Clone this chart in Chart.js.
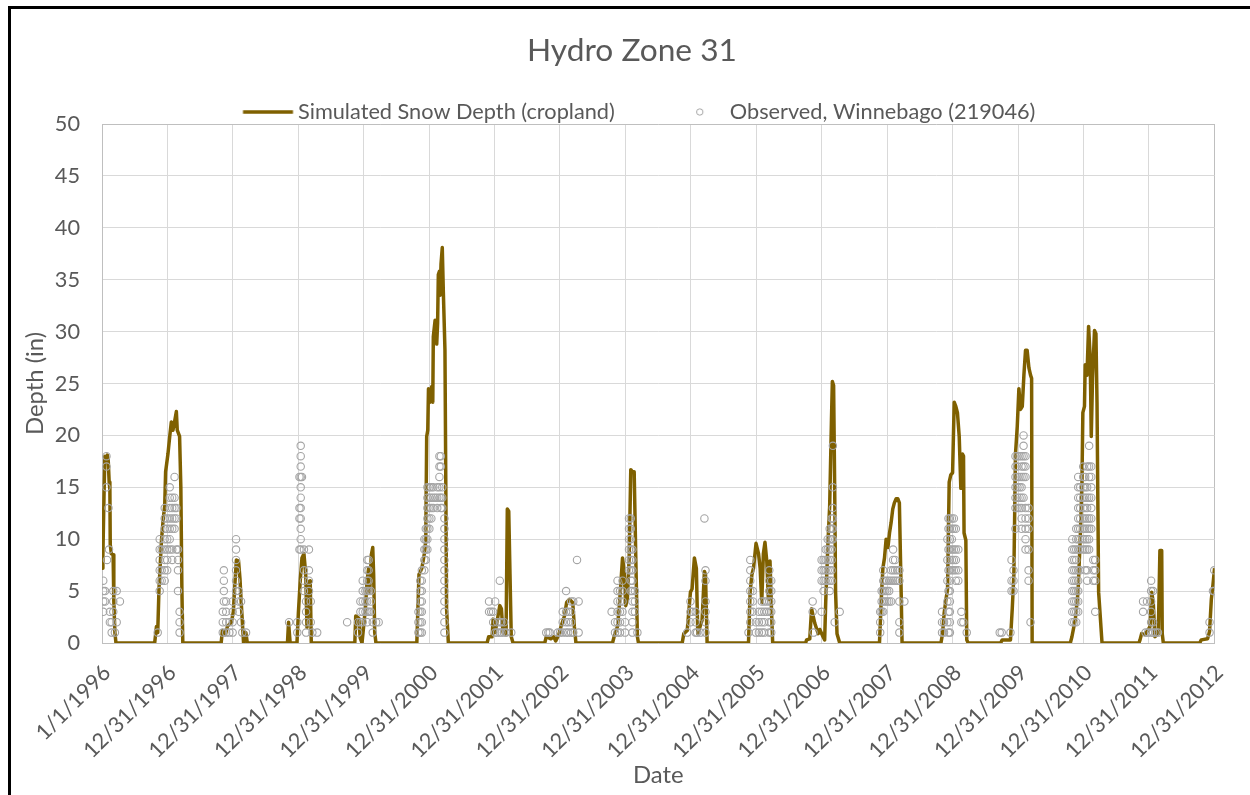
<!DOCTYPE html>
<html>
<head>
<meta charset="utf-8">
<script src="https://cdn.jsdelivr.net/npm/chart.js@4.4.0/dist/chart.umd.min.js"></script>
<style>
html, body { margin: 0; padding: 0; background: #ffffff; width: 1250px; height: 795px; overflow: hidden; }
#wrap { position: absolute; left: 0; top: 0; width: 1250px; height: 795px; }
#frame { position: absolute; left: 8px; top: 6px; width: 1400px; height: 1000px;
         border-left: 3px solid #000; border-top: 3px solid #000; pointer-events: none; }
</style>
</head>
<body>
<div id="wrap"><canvas id="c" width="1250" height="795"></canvas></div>
<div id="frame"></div>
<script>
// ---------------- text ----------------
const chartTitle = 'Hydro Zone 31';
const simLabel = 'Simulated Snow Depth (cropland)';
const obsLabel = 'Observed, Winnebago (219046)';
const yAxisTitle = 'Depth (in)';
const xAxisTitle = 'Date';

// ---------------- axes ----------------
const xTickLabels = ['1/1/1996', '12/31/1996', '12/31/1997', '12/31/1998', '12/31/1999',
  '12/31/2000', '12/31/2001', '12/31/2002', '12/31/2003', '12/31/2004', '12/31/2005',
  '12/31/2006', '12/31/2007', '12/31/2008', '12/31/2009', '12/31/2010', '12/31/2011', '12/31/2012'];
const yMin = 0, yMax = 50, yStep = 5;

// ---------------- simulated snow depth (day index since 1/1/1996, inches) ----------------
const simDay = [
  0, 5, 11, 16, 22, 30, 35, 40, 44, 46, 52, 62, 66, 72, 78,
  294, 304, 311, 318, 332, 342, 350, 355, 368, 378, 387, 396, 405, 415, 420, 433, 440, 446, 451,
  665, 672, 689, 700, 722, 733, 741, 750, 762, 770, 776, 785, 790, 803, 811,
  1035, 1041, 1050, 1088, 1096, 1107, 1116, 1127, 1137, 1144, 1150, 1162, 1168,
  1411, 1416, 1433, 1441, 1451, 1470, 1479, 1488, 1494, 1503, 1511, 1516, 1522, 1529,
  1757, 1769, 1785, 1799, 1807, 1812, 1818, 1822, 1831, 1840, 1846, 1849, 1859, 1868, 1873, 1877, 1883, 1887, 1892, 1899, 1905, 1914, 1923, 1933,
  2149, 2158, 2177, 2183, 2194, 2210, 2220, 2229, 2238, 2255, 2262, 2270, 2277, 2284, 2294,
  2471, 2479, 2505, 2521, 2532, 2549, 2562, 2581, 2593, 2608, 2627, 2636, 2645,
  2849, 2858, 2877, 2886, 2895, 2905, 2914, 2923, 2932, 2942, 2951, 2960, 2970, 2979, 2988, 2994,
  3238, 3247, 3266, 3284, 3293, 3306, 3317, 3325, 3349, 3362, 3368, 3377,
  3608, 3617, 3627, 3636, 3650, 3664, 3673, 3682, 3691, 3700, 3710, 3719, 3728, 3738, 3743,
  3927, 3932, 3950, 3960, 3969, 3978, 3997, 4006, 4024, 4033, 4039, 4052, 4061, 4071, 4076, 4083, 4089, 4094, 4102, 4117,
  4339, 4349, 4358, 4367, 4376, 4386, 4395, 4404, 4413, 4422, 4432, 4441, 4450, 4460, 4465,
  4682, 4691, 4700, 4710, 4719, 4728, 4737, 4747, 4756, 4765, 4774, 4784, 4793, 4802, 4808, 4811, 4821, 4826, 4834,
  5015, 5024, 5070, 5080, 5089, 5098, 5108, 5117, 5126, 5136, 5145, 5154, 5163, 5173, 5182, 5188, 5191,
  5404, 5413, 5432, 5447, 5459, 5469, 5474, 5483, 5487, 5497, 5506, 5515, 5521, 5528, 5539, 5547, 5553, 5562, 5571, 5581,
  5787, 5793, 5802, 5821, 5839, 5849, 5858, 5867, 5876, 5895, 5904, 5914, 5917, 5923,
  6126, 6135, 6170, 6181, 6191, 6200, 6209
];
const simDepth = [
  7.2, 8.5, 14, 18, 17.6, 18.1, 17.5, 15.5, 14.8, 9.5, 8.6, 8.5, 4, 1, 0,
  0, 1.6, 1.0, 5.2, 9.9, 12, 13.2, 16.5, 18.2, 19.9, 21.3, 20.5, 21.3, 22.3, 20.5, 19.9, 15, 5, 0,
  0, 1.2, 0.8, 1.6, 2, 3, 5.5, 8, 7.9, 6.2, 4.2, 1.5, 0, 1, 0,
  0, 2, 0, 0, 2.9, 6.2, 8.2, 8.6, 6.6, 1.5, 5.9, 6, 0,
  0, 2.6, 2.4, 0.5, 0, 3.3, 5.9, 7.2, 4.9, 8.5, 9.2, 6.6, 1, 0,
  0, 6.6, 7.2, 8.6, 9.9, 19.9, 20.5, 24.5, 23.2, 24.7, 23.2, 29.5, 31.1, 28.8, 30.8, 35.5, 35.8, 33.5, 36.5, 38.1, 33.8, 28.2, 3.3, 0,
  0, 0.6, 0.6, 2.3, 1, 2.6, 3.6, 3.3, 1, 0.8, 12.9, 12.7, 6.6, 0.6, 0,
  0, 0.6, 0.4, 0.6, 0.2, 0.8, 1.6, 2.6, 3.9, 4.2, 3.9, 1.6, 0,
  0, 0.6, 1.6, 3.3, 5.6, 8.2, 6.9, 3.6, 4.2, 8.2, 16.7, 16.5, 16.5, 8.2, 0.6, 0,
  0, 0.9, 1.2, 4.9, 5.2, 8.2, 7.2, 0.9, 2.2, 6.9, 6.6, 0,
  0, 4.9, 6.6, 7.2, 9.6, 8.6, 7.2, 3.9, 8.6, 9.7, 7.9, 4.2, 7.9, 2.3, 0,
  0, 0.3, 0.4, 3.3, 2.6, 1.9, 0.9, 1.3, 0.6, 0.3, 4, 9.9, 13.2, 21.5, 25.2, 24.8, 14.9, 4.9, 0.9, 0,
  0, 4.2, 7.2, 8.2, 10, 9.2, 10.6, 11.6, 12.9, 13.5, 13.9, 13.9, 13.5, 4.9, 0,
  0, 0.9, 2.9, 4.2, 5.2, 15.5, 16.2, 16.4, 23.2, 22.8, 22.2, 19.9, 14.9, 18.2, 18, 10.6, 9.9, 0.3, 0,
  0, 0.3, 0.3, 3.3, 6.6, 18.2, 20.9, 24.5, 22.5, 22.8, 25.8, 28.2, 28.2, 26.5, 25.8, 25.5, 0,
  0, 0.6, 2.3, 4.9, 9.9, 15.5, 22.2, 22.8, 26.8, 25.8, 30.5, 27.5, 19.9, 25.5, 30.1, 29.8, 23.2, 4.9, 2.6, 0,
  0, 0.3, 0.9, 0.8, 1.3, 1.6, 4.9, 3.9, 0.6, 0.9, 8.9, 8.9, 0.9, 0,
  0, 0.3, 0.4, 1.1, 4.2, 5.6, 7.2
];

// ---------------- observed snow depth: one entry per observation day ----------------
const obsDay = [
  7, 17, 25, 28, 36, 39, 44, 54, 63, 72, 82, 100,
  311, 322, 333, 350, 364, 378, 392, 405, 415, 424, 433,
  674, 680, 693, 711, 729, 748, 763, 776, 783, 804,
  1044, 1090, 1102, 1109, 1116, 1127, 1139, 1155, 1165, 1174, 1201,
  1368, 1429, 1442, 1455, 1470, 1480, 1488, 1500, 1511, 1530, 1544,
  1766, 1776, 1785, 1799, 1807, 1816, 1827, 1838, 1849, 1860, 1871, 1883, 1891, 1899, 1911,
  2160, 2172, 2183, 2194, 2205, 2220, 2229, 2244, 2255, 2284,
  2479, 2491, 2499, 2544, 2556, 2571, 2590, 2602, 2618, 2630, 2651, 2660,
  2844, 2863, 2877, 2891, 2905, 2919, 2941, 2951, 2960, 2974, 2988,
  3266, 3284, 3293, 3313, 3321, 3340, 3362, 3368,
  3608, 3618, 3632, 3649, 3666, 3682, 3696, 3710, 3724, 3735,
  3966, 3971, 4016, 4027, 4039, 4050, 4061, 4072, 4079, 4089, 4117,
  4343, 4351, 4360, 4371, 4382, 4393, 4404, 4415, 4426, 4438, 4450, 4478,
  4688, 4699, 4718, 4724, 4732, 4743, 4754, 4765, 4779, 4796, 4807, 4826,
  5010, 5021, 5070, 5076, 5087, 5098, 5109, 5121, 5132, 5143, 5154, 5171, 5182,
  5415, 5426, 5437, 5448, 5459, 5476, 5487, 5498, 5509, 5521, 5532, 5543,
  5810, 5824, 5832, 5838, 5855, 5866, 5880, 5893,
  6181, 6200, 6207
];
const obsDepth = [
  [6,5,4,3], [5,4], [18,17,15], [8], [13], [9], [3,2], [2,1], [5,4,3], [1], [5,2], [4],
  [1], [10,9,8,7,6,5], [9,7,6], [13,12,11,10,9,8,7,6], [12,11,10,9,8,7], [15,14,13,12,11,10,9], [14,13,12,11,9,8], [16,14,13,12,11], [13,12,9], [9,8,7,5], [3,2,1],
  [3,2,1], [7,6,5,4], [4,3,2,1], [2,1], [4,3,2,1], [10,9,8,7,6,5], [5,4,3], [4,2], [1], [1],
  [2], [2,1], [16,13,12,9], [19,18,17,16,15,14,13,12,11,10,9], [16], [9,7,6,5], [4,3,2,1], [9,7,6,5], [4,2], [1], [1],
  [2], [2,1], [4,3,2], [6,5,4,3,2], [5,4,3], [8,7,6,5,4,3,2], [8,7,6,5,3], [5,4,3], [2,1], [2], [2],
  [3,2,1], [6,5,4,3,2,1], [7,6,5,4,3,2,1], [10,9,8,7], [11,10,9,8], [15,14,13,12,11,10,9], [15,14,13,12,11], [15,14,13,12], [15,14,13], [14], [15,14,13], [18,17,16,15,14], [18,17,14,13], [15,14,13], [12,11,10,9,8,7,6,5,4,3,2,1],
  [4,3], [3], [3,2], [4,1], [2,1], [6,2,1], [2,1], [2,1], [1], [1],
  [1], [1], [1], [1], [1], [3,2,1], [5,3,2,1], [3,2,1], [4,3,2,1], [4,1], [8], [4,1],
  [3], [2,1], [6,5,4,3,2,1], [5,4,3,2,1], [6,5,4,3], [2,1], [12,11,10,9,8,7], [12,11,10,9,8,7,6,5], [9,8,7,6,5,4,3,2,1], [5,4,3], [1],
  [1], [4,3,2], [3], [3,2,1], [1], [1], [12], [7,6,4,3,2,1],
  [1], [8,7,6,5,4,3,2], [5,4,3], [2,1], [3,2,1], [4,3,2,1], [4,3,2,1], [4,3], [7,6,5,4,3,2,1], [6,5,4,3,2,1],
  [4,3], [1], [8,7,6,3], [8,7,6,5], [9,8,7,6], [10,9,8,7,6], [11,10,9,8,7,6,5], [12,11,10,9,8,7,6], [19,15,13,12,11,10], [2], [3],
  [3,2,1], [5,4,3], [7,6,5,4,3], [6,5,4], [6,5,4], [6,5,4], [7,6,4], [9,8,7,6], [8,7,6], [7,6], [7,6,4,2,1], [4],
  [3,2,1], [2,1], [10,8,6,4,2], [12,11,9,7,5,3,1], [12,11,10,9,8,7,6,5,4,3,2,1], [12,11,10,9,8,7], [12,11,9,8,7], [11,9,8,7,6], [9,7,6], [3,2], [2], [1],
  [1], [1], [1], [8,6,5], [7,6,5], [18,17,16,15,14,13,11], [18,17,16,15,14,13], [18,16,15,14,13], [18,17,16,15,14,13,12,11], [20,19,18,17,16,14], [18,17,16,13,12,11,10,9], [13,12,11,9,7,6], [2],
  [10,9,8,7,6,5,4,3,2], [9,8,7,6,5,4,3,2], [11,10,9,8,7,6,5,4,3,2], [16,15,14,13,12,11,10,9,7,6,5,4,3], [15,14,13,12,11,10,9,7], [17,16,15,14,13,12,11,10,9], [16,15,14,13,12,11,10,9,7], [17,15,14,13,12,11,10,9,7,6], [19,17,16,14,12,11,10,9], [17,16,15,14,13,12,11], [8,7,6], [8,7,6,3],
  [4,3], [1], [4], [1], [6,5,4,3,2,1], [5,2,1], [1], [1],
  [2,1], [5], [7,5]
];

// ---------------- styling ----------------
const FONT = 'Lato, "Open Sans", sans-serif';
const TEXT = '#595959';
const LINE_COLOR = '#7F6000';
const OBS_COLOR = '#A5A5A5';
const GRID = '#D9D9D9';
const FRAME = '#BFBFBF';

// ---------------- derived ----------------
function dayOf(mdy) {
  const [m, d, y] = mdy.split('/').map(Number);
  return Math.round((Date.UTC(y, m - 1, d) - Date.UTC(1996, 0, 1)) / 86400000);
}
const xTickDays = xTickLabels.map(dayOf);
const simPoints = simDay.map((d, i) => ({ x: d, y: simDepth[i] }));
const obsPoints = [];
obsDay.forEach((d, i) => obsDepth[i].forEach(v => obsPoints.push({ x: d, y: v })));

const mctx = document.createElement('canvas').getContext('2d');
function textW(text, size) { mctx.font = size + 'px ' + FONT; return mctx.measureText(text).width; }
const k = (317 / textW(simLabel, 100) * 100) / 23.2;
const fsTick = 23.2 * k;
const fsAxis = 25.5 * k;
const fsTitle = 210 / textW(chartTitle, 100) * 100;

// layout targets
const PAD_LEFT = 14, CANVAS_W = 1250;
const T1 = textW(simLabel, fsTick), T2 = textW(obsLabel, fsTick);
const legendPad = (PAD_LEFT + CANVAS_W) - 2 * 298 - T1 - T2;
const boxW = Math.max(10, 115 - legendPad - fsTick / 2);
const shift = boxW / 2 + fsTick / 2 - 30;

function makeLineImg() {
  const c = document.createElement('canvas');
  c.width = Math.ceil(2 * (Math.abs(shift) + 27)); c.height = 6;
  const g = c.getContext('2d');
  g.fillStyle = LINE_COLOR;
  g.fillRect(c.width / 2 + shift - 25, 1.25, 50, 3.5);
  return c;
}
function makeCircleImg() {
  const c = document.createElement('canvas');
  c.width = Math.ceil(2 * (Math.abs(shift) + 6)); c.height = 12;
  const g = c.getContext('2d');
  g.strokeStyle = OBS_COLOR; g.lineWidth = 1;
  g.beginPath(); g.arc(c.width / 2 + shift, 6, 3.2, 0, Math.PI * 2); g.stroke();
  return c;
}
const lineImg = makeLineImg(), circImg = makeCircleImg();

const titleLH = fsTitle * 1.2;
const titlePadTop = 51 - titleLH / 2;
const titleBoxH = 112 - legendPad - fsTick / 2;
const titlePadBottom = titleBoxH - titlePadTop - titleLH;
const legendMaxH = 124 - titleBoxH;

new Chart(document.getElementById('c'), {
  type: 'scatter',
  data: {
    datasets: [
      {
        type: 'line', label: simLabel, data: simPoints,
        borderColor: LINE_COLOR, backgroundColor: LINE_COLOR, borderWidth: 3.5,
        pointRadius: 0, pointHoverRadius: 0, fill: false, tension: 0, order: 1,
        borderJoinStyle: 'round', xAxisID: 'x', yAxisID: 'y'
      },
      {
        type: 'scatter', label: obsLabel, data: obsPoints, showLine: false,
        pointRadius: 3.7, pointHoverRadius: 3.7, borderWidth: 1.1,
        borderColor: OBS_COLOR, backgroundColor: 'rgba(255,255,255,0)', order: 0,
        xAxisID: 'x', yAxisID: 'y'
      }
    ]
  },
  options: {
    responsive: false, animation: false, devicePixelRatio: 1,
    layout: { padding: { left: PAD_LEFT, right: 0, top: 0, bottom: 0 } },
    plugins: {
      tooltip: { enabled: false },
      title: {
        display: true, text: chartTitle, color: TEXT,
        font: { family: FONT, size: fsTitle, weight: 'normal', lineHeight: 1.2 },
        padding: { top: titlePadTop, bottom: titlePadBottom }
      },
      legend: {
        display: true, position: 'top', align: 'center', maxHeight: legendMaxH,
        labels: {
          usePointStyle: true, pointStyleWidth: boxW, padding: legendPad,
          color: TEXT, font: { family: FONT, size: fsTick },
          generateLabels: () => [
            { text: simLabel, pointStyle: lineImg, fontColor: TEXT, fillStyle: LINE_COLOR, strokeStyle: LINE_COLOR, lineWidth: 0, hidden: false, datasetIndex: 0 },
            { text: obsLabel, pointStyle: circImg, fontColor: TEXT, fillStyle: 'rgba(0,0,0,0)', strokeStyle: OBS_COLOR, lineWidth: 0, hidden: false, datasetIndex: 1 }
          ]
        }
      }
    },
    scales: {
      x: {
        type: 'linear', position: 'bottom',
        min: xTickDays[0], max: xTickDays[xTickDays.length - 1],
        afterBuildTicks: s => { s.ticks = xTickDays.map(v => ({ value: v })); },
        afterFit: s => { s.height = 152; },
        grid: {
          color: c => (c.index === xTickDays.length - 1 ? FRAME : GRID),
          lineWidth: 1, drawTicks: false
        },
        border: { display: true, color: FRAME, width: 1 },
        ticks: {
          autoSkip: false, maxRotation: 45, minRotation: 45, padding: 17, labelOffset: 5,
          color: TEXT, font: { family: FONT, size: fsTick },
          callback: (v, i) => xTickLabels[i]
        },
        title: {
          display: true, text: xAxisTitle, color: TEXT,
          font: { family: FONT, size: fsAxis }, padding: { top: 0, bottom: 5 }
        }
      },
      y: {
        type: 'linear', position: 'left', min: yMin, max: yMax,
        afterFit: s => { s.width = 102 - PAD_LEFT; },
        grid: {
          color: c => (c.tick && (c.tick.value === yMax) ? FRAME : GRID),
          lineWidth: 1, drawTicks: false
        },
        border: { display: true, color: FRAME, width: 1 },
        ticks: { stepSize: yStep, padding: 22, color: TEXT, font: { family: FONT, size: fsTick } },
        title: {
          display: true, text: yAxisTitle, color: TEXT,
          font: { family: FONT, size: fsAxis }, padding: { top: 7, bottom: 0 }
        }
      },
      yR: {
        type: 'linear', position: 'right', display: true,
        afterFit: s => { s.width = 30; },
        grid: { display: false, drawTicks: false },
        border: { display: false },
        ticks: { display: false }
      }
    }
  }
});
</script>
</body>
</html>
